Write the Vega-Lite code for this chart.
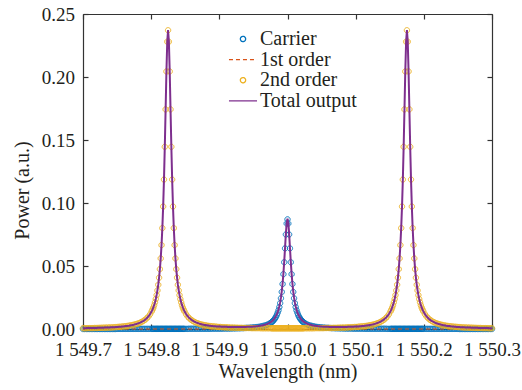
{
  "$schema": "https://vega.github.io/schema/vega-lite/v6.json",
  "width": 409,
  "height": 315,
  "autosize": {"type": "none"},
  "padding": {"left": 83, "top": 14, "right": 30, "bottom": 61},
  "background": "white",
  "datasets": {
    "first": [{"x": 1549.7, "f": 0}, {"x": 1550.3, "f": 0}],
    "main": [
      {"x":1549.7,"c":0,"s":0.0006,"t":0.0006},
      {"x":1549.7024,"c":0,"s":0.0006,"t":0.0006},
      {"x":1549.7048,"c":0,"s":0.0006,"t":0.0007},
      {"x":1549.7072,"c":0,"s":0.0007,"t":0.0007},
      {"x":1549.7096,"c":0,"s":0.0007,"t":0.0007},
      {"x":1549.712,"c":0,"s":0.0007,"t":0.0007},
      {"x":1549.7144,"c":0,"s":0.0007,"t":0.0008},
      {"x":1549.7168,"c":0,"s":0.0008,"t":0.0008},
      {"x":1549.7192,"c":0,"s":0.0008,"t":0.0008},
      {"x":1549.7216,"c":0,"s":0.0008,"t":0.0009},
      {"x":1549.724,"c":0,"s":0.0009,"t":0.0009},
      {"x":1549.7264,"c":0,"s":0.0009,"t":0.001},
      {"x":1549.7288,"c":0,"s":0.001,"t":0.001},
      {"x":1549.7312,"c":0,"s":0.001,"t":0.0011},
      {"x":1549.7336,"c":0,"s":0.0011,"t":0.0011},
      {"x":1549.736,"c":0,"s":0.0011,"t":0.0012},
      {"x":1549.7384,"c":0,"s":0.0012,"t":0.0012},
      {"x":1549.7408,"c":0,"s":0.0012,"t":0.0013},
      {"x":1549.7432,"c":0,"s":0.0013,"t":0.0014},
      {"x":1549.7456,"c":0,"s":0.0014,"t":0.0014},
      {"x":1549.748,"c":0,"s":0.0015,"t":0.0015},
      {"x":1549.7504,"c":0.0001,"s":0.0016,"t":0.0016},
      {"x":1549.7528,"c":0.0001,"s":0.0017,"t":0.0017},
      {"x":1549.7552,"c":0.0001,"s":0.0018,"t":0.0018},
      {"x":1549.7576,"c":0.0001,"s":0.0019,"t":0.002},
      {"x":1549.76,"c":0.0001,"s":0.0021,"t":0.0021},
      {"x":1549.7624,"c":0.0001,"s":0.0022,"t":0.0023},
      {"x":1549.7648,"c":0.0001,"s":0.0024,"t":0.0024},
      {"x":1549.7672,"c":0.0001,"s":0.0026,"t":0.0026},
      {"x":1549.7696,"c":0.0001,"s":0.0028,"t":0.0029},
      {"x":1549.772,"c":0.0001,"s":0.0031,"t":0.0031},
      {"x":1549.7744,"c":0.0001,"s":0.0034,"t":0.0034},
      {"x":1549.7768,"c":0.0001,"s":0.0037,"t":0.0038},
      {"x":1549.7792,"c":0.0001,"s":0.0041,"t":0.0041},
      {"x":1549.7816,"c":0.0001,"s":0.0045,"t":0.0046},
      {"x":1549.784,"c":0.0001,"s":0.0051,"t":0.0051},
      {"x":1549.7864,"c":0.0001,"s":0.0057,"t":0.0058},
      {"x":1549.7888,"c":0.0001,"s":0.0065,"t":0.0065},
      {"x":1549.7912,"c":0.0001,"s":0.0074,"t":0.0074},
      {"x":1549.7936,"c":0.0001,"s":0.0085,"t":0.0086},
      {"x":1549.796,"c":0.0001,"s":0.0099,"t":0.01},
      {"x":1549.7984,"c":0.0001,"s":0.0117,"t":0.0118},
      {"x":1549.8008,"c":0.0001,"s":0.014,"t":0.0141},
      {"x":1549.802,"c":0.0001,"s":0.0154,"t":0.0155},
      {"x":1549.8032,"c":0.0001,"s":0.017,"t":0.0171},
      {"x":1549.8044,"c":0.0001,"s":0.0189,"t":0.019},
      {"x":1549.8056,"c":0.0001,"s":0.0212,"t":0.0212},
      {"x":1549.8068,"c":0.0001,"s":0.0238,"t":0.0239},
      {"x":1549.808,"c":0.0001,"s":0.0269,"t":0.027},
      {"x":1549.8092,"c":0.0001,"s":0.0306,"t":0.0307},
      {"x":1549.8104,"c":0.0001,"s":0.0351,"t":0.0352},
      {"x":1549.8116,"c":0.0001,"s":0.0407,"t":0.0407},
      {"x":1549.8128,"c":0.0001,"s":0.0475,"t":0.0476},
      {"x":1549.814,"c":0.0001,"s":0.056,"t":0.0561},
      {"x":1549.8152,"c":0.0001,"s":0.0666,"t":0.0667},
      {"x":1549.8164,"c":0.0001,"s":0.0801,"t":0.0802},
      {"x":1549.8176,"c":0.0001,"s":0.0972,"t":0.0973},
      {"x":1549.8188,"c":0.0001,"s":0.1186,"t":0.1187},
      {"x":1549.82,"c":0.0001,"s":0.1446,"t":0.1447},
      {"x":1549.8212,"c":0.0001,"s":0.1743,"t":0.1744},
      {"x":1549.8224,"c":0.0001,"s":0.2044,"t":0.2045},
      {"x":1549.8236,"c":0.0001,"s":0.228,"t":0.2281},
      {"x":1549.8248,"c":0.0001,"s":0.2371,"t":0.2372},
      {"x":1549.826,"c":0.0001,"s":0.228,"t":0.2281},
      {"x":1549.8272,"c":0.0001,"s":0.2044,"t":0.2045},
      {"x":1549.8284,"c":0.0001,"s":0.1743,"t":0.1744},
      {"x":1549.8296,"c":0.0001,"s":0.1446,"t":0.1447},
      {"x":1549.8308,"c":0.0001,"s":0.1186,"t":0.1187},
      {"x":1549.832,"c":0.0001,"s":0.0972,"t":0.0973},
      {"x":1549.8332,"c":0.0001,"s":0.0801,"t":0.0803},
      {"x":1549.8344,"c":0.0001,"s":0.0666,"t":0.0668},
      {"x":1549.8356,"c":0.0001,"s":0.056,"t":0.0561},
      {"x":1549.8368,"c":0.0001,"s":0.0475,"t":0.0476},
      {"x":1549.838,"c":0.0001,"s":0.0407,"t":0.0408},
      {"x":1549.8392,"c":0.0001,"s":0.0351,"t":0.0352},
      {"x":1549.8404,"c":0.0001,"s":0.0306,"t":0.0307},
      {"x":1549.8416,"c":0.0001,"s":0.0269,"t":0.027},
      {"x":1549.8428,"c":0.0001,"s":0.0238,"t":0.0239},
      {"x":1549.844,"c":0.0001,"s":0.0212,"t":0.0213},
      {"x":1549.8452,"c":0.0001,"s":0.0189,"t":0.0191},
      {"x":1549.8464,"c":0.0001,"s":0.017,"t":0.0172},
      {"x":1549.8476,"c":0.0001,"s":0.0154,"t":0.0156},
      {"x":1549.8488,"c":0.0001,"s":0.014,"t":0.0141},
      {"x":1549.8512,"c":0.0001,"s":0.0117,"t":0.0119},
      {"x":1549.8536,"c":0.0001,"s":0.0099,"t":0.0101},
      {"x":1549.856,"c":0.0002,"s":0.0085,"t":0.0087},
      {"x":1549.8584,"c":0.0002,"s":0.0074,"t":0.0076},
      {"x":1549.8608,"c":0.0002,"s":0.0065,"t":0.0067},
      {"x":1549.8632,"c":0.0002,"s":0.0057,"t":0.0059},
      {"x":1549.8656,"c":0.0002,"s":0.0051,"t":0.0053},
      {"x":1549.868,"c":0.0002,"s":0.0046,"t":0.0048},
      {"x":1549.8704,"c":0.0002,"s":0.0041,"t":0.0043},
      {"x":1549.8728,"c":0.0002,"s":0.0037,"t":0.0039},
      {"x":1549.8752,"c":0.0002,"s":0.0034,"t":0.0036},
      {"x":1549.8776,"c":0.0002,"s":0.0031,"t":0.0033},
      {"x":1549.88,"c":0.0002,"s":0.0029,"t":0.0031},
      {"x":1549.8824,"c":0.0002,"s":0.0026,"t":0.0029},
      {"x":1549.8848,"c":0.0002,"s":0.0024,"t":0.0027},
      {"x":1549.8872,"c":0.0002,"s":0.0023,"t":0.0025},
      {"x":1549.8896,"c":0.0003,"s":0.0021,"t":0.0024},
      {"x":1549.892,"c":0.0003,"s":0.002,"t":0.0022},
      {"x":1549.8944,"c":0.0003,"s":0.0019,"t":0.0021},
      {"x":1549.8968,"c":0.0003,"s":0.0017,"t":0.002},
      {"x":1549.8992,"c":0.0003,"s":0.0016,"t":0.002},
      {"x":1549.9016,"c":0.0003,"s":0.0016,"t":0.0019},
      {"x":1549.904,"c":0.0003,"s":0.0015,"t":0.0018},
      {"x":1549.9064,"c":0.0004,"s":0.0014,"t":0.0017},
      {"x":1549.9088,"c":0.0004,"s":0.0013,"t":0.0017},
      {"x":1549.9112,"c":0.0004,"s":0.0013,"t":0.0017},
      {"x":1549.9136,"c":0.0004,"s":0.0012,"t":0.0016},
      {"x":1549.916,"c":0.0004,"s":0.0011,"t":0.0016},
      {"x":1549.9184,"c":0.0005,"s":0.0011,"t":0.0016},
      {"x":1549.9208,"c":0.0005,"s":0.0011,"t":0.0015},
      {"x":1549.9232,"c":0.0005,"s":0.001,"t":0.0015},
      {"x":1549.9256,"c":0.0006,"s":0.001,"t":0.0015},
      {"x":1549.928,"c":0.0006,"s":0.0009,"t":0.0015},
      {"x":1549.9304,"c":0.0006,"s":0.0009,"t":0.0015},
      {"x":1549.9328,"c":0.0007,"s":0.0009,"t":0.0016},
      {"x":1549.9352,"c":0.0007,"s":0.0008,"t":0.0016},
      {"x":1549.9376,"c":0.0008,"s":0.0008,"t":0.0016},
      {"x":1549.94,"c":0.0009,"s":0.0008,"t":0.0017},
      {"x":1549.9424,"c":0.0009,"s":0.0008,"t":0.0017},
      {"x":1549.9448,"c":0.001,"s":0.0008,"t":0.0018},
      {"x":1549.9472,"c":0.0011,"s":0.0007,"t":0.0018},
      {"x":1549.9496,"c":0.0012,"s":0.0007,"t":0.0019},
      {"x":1549.952,"c":0.0013,"s":0.0007,"t":0.002},
      {"x":1549.9544,"c":0.0015,"s":0.0007,"t":0.0022},
      {"x":1549.9568,"c":0.0016,"s":0.0007,"t":0.0023},
      {"x":1549.9592,"c":0.0018,"s":0.0007,"t":0.0025},
      {"x":1549.9616,"c":0.0021,"s":0.0006,"t":0.0027},
      {"x":1549.964,"c":0.0024,"s":0.0006,"t":0.003},
      {"x":1549.9664,"c":0.0027,"s":0.0006,"t":0.0033},
      {"x":1549.9688,"c":0.0031,"s":0.0006,"t":0.0037},
      {"x":1549.9712,"c":0.0036,"s":0.0006,"t":0.0042},
      {"x":1549.9736,"c":0.0043,"s":0.0006,"t":0.0049},
      {"x":1549.976,"c":0.0051,"s":0.0006,"t":0.0057},
      {"x":1549.9772,"c":0.0056,"s":0.0006,"t":0.0062},
      {"x":1549.9784,"c":0.0062,"s":0.0006,"t":0.0068},
      {"x":1549.9796,"c":0.0069,"s":0.0006,"t":0.0075},
      {"x":1549.9808,"c":0.0077,"s":0.0006,"t":0.0083},
      {"x":1549.982,"c":0.0087,"s":0.0006,"t":0.0093},
      {"x":1549.9832,"c":0.0098,"s":0.0006,"t":0.0104},
      {"x":1549.9844,"c":0.0112,"s":0.0006,"t":0.0118},
      {"x":1549.9856,"c":0.0129,"s":0.0006,"t":0.0134},
      {"x":1549.9868,"c":0.0149,"s":0.0006,"t":0.0155},
      {"x":1549.988,"c":0.0174,"s":0.0006,"t":0.018},
      {"x":1549.9892,"c":0.0205,"s":0.0006,"t":0.0211},
      {"x":1549.9904,"c":0.0244,"s":0.0006,"t":0.025},
      {"x":1549.9916,"c":0.0294,"s":0.0006,"t":0.0299},
      {"x":1549.9928,"c":0.0357,"s":0.0006,"t":0.0362},
      {"x":1549.994,"c":0.0435,"s":0.0006,"t":0.0441},
      {"x":1549.9952,"c":0.053,"s":0.0006,"t":0.0536},
      {"x":1549.9964,"c":0.064,"s":0.0006,"t":0.0645},
      {"x":1549.9976,"c":0.075,"s":0.0006,"t":0.0756},
      {"x":1549.9988,"c":0.0837,"s":0.0006,"t":0.0842},
      {"x":1550.0,"c":0.087,"s":0.0006,"t":0.0876},
      {"x":1550.0012,"c":0.0837,"s":0.0006,"t":0.0842},
      {"x":1550.0024,"c":0.075,"s":0.0006,"t":0.0756},
      {"x":1550.0036,"c":0.064,"s":0.0006,"t":0.0645},
      {"x":1550.0048,"c":0.053,"s":0.0006,"t":0.0536},
      {"x":1550.006,"c":0.0435,"s":0.0006,"t":0.0441},
      {"x":1550.0072,"c":0.0357,"s":0.0006,"t":0.0362},
      {"x":1550.0084,"c":0.0294,"s":0.0006,"t":0.0299},
      {"x":1550.0096,"c":0.0244,"s":0.0006,"t":0.025},
      {"x":1550.0108,"c":0.0205,"s":0.0006,"t":0.0211},
      {"x":1550.012,"c":0.0174,"s":0.0006,"t":0.018},
      {"x":1550.0132,"c":0.0149,"s":0.0006,"t":0.0155},
      {"x":1550.0144,"c":0.0129,"s":0.0006,"t":0.0134},
      {"x":1550.0156,"c":0.0112,"s":0.0006,"t":0.0118},
      {"x":1550.0168,"c":0.0098,"s":0.0006,"t":0.0104},
      {"x":1550.018,"c":0.0087,"s":0.0006,"t":0.0093},
      {"x":1550.0192,"c":0.0077,"s":0.0006,"t":0.0083},
      {"x":1550.0204,"c":0.0069,"s":0.0006,"t":0.0075},
      {"x":1550.0216,"c":0.0062,"s":0.0006,"t":0.0068},
      {"x":1550.0228,"c":0.0056,"s":0.0006,"t":0.0062},
      {"x":1550.024,"c":0.0051,"s":0.0006,"t":0.0057},
      {"x":1550.0264,"c":0.0043,"s":0.0006,"t":0.0049},
      {"x":1550.0288,"c":0.0036,"s":0.0006,"t":0.0042},
      {"x":1550.0312,"c":0.0031,"s":0.0006,"t":0.0037},
      {"x":1550.0336,"c":0.0027,"s":0.0006,"t":0.0033},
      {"x":1550.036,"c":0.0024,"s":0.0006,"t":0.003},
      {"x":1550.0384,"c":0.0021,"s":0.0006,"t":0.0027},
      {"x":1550.0408,"c":0.0018,"s":0.0007,"t":0.0025},
      {"x":1550.0432,"c":0.0016,"s":0.0007,"t":0.0023},
      {"x":1550.0456,"c":0.0015,"s":0.0007,"t":0.0022},
      {"x":1550.048,"c":0.0013,"s":0.0007,"t":0.002},
      {"x":1550.0504,"c":0.0012,"s":0.0007,"t":0.0019},
      {"x":1550.0528,"c":0.0011,"s":0.0007,"t":0.0018},
      {"x":1550.0552,"c":0.001,"s":0.0008,"t":0.0018},
      {"x":1550.0576,"c":0.0009,"s":0.0008,"t":0.0017},
      {"x":1550.06,"c":0.0009,"s":0.0008,"t":0.0017},
      {"x":1550.0624,"c":0.0008,"s":0.0008,"t":0.0016},
      {"x":1550.0648,"c":0.0007,"s":0.0008,"t":0.0016},
      {"x":1550.0672,"c":0.0007,"s":0.0009,"t":0.0016},
      {"x":1550.0696,"c":0.0006,"s":0.0009,"t":0.0015},
      {"x":1550.072,"c":0.0006,"s":0.0009,"t":0.0015},
      {"x":1550.0744,"c":0.0006,"s":0.001,"t":0.0015},
      {"x":1550.0768,"c":0.0005,"s":0.001,"t":0.0015},
      {"x":1550.0792,"c":0.0005,"s":0.0011,"t":0.0015},
      {"x":1550.0816,"c":0.0005,"s":0.0011,"t":0.0016},
      {"x":1550.084,"c":0.0004,"s":0.0011,"t":0.0016},
      {"x":1550.0864,"c":0.0004,"s":0.0012,"t":0.0016},
      {"x":1550.0888,"c":0.0004,"s":0.0013,"t":0.0017},
      {"x":1550.0912,"c":0.0004,"s":0.0013,"t":0.0017},
      {"x":1550.0936,"c":0.0004,"s":0.0014,"t":0.0017},
      {"x":1550.096,"c":0.0003,"s":0.0015,"t":0.0018},
      {"x":1550.0984,"c":0.0003,"s":0.0016,"t":0.0019},
      {"x":1550.1008,"c":0.0003,"s":0.0016,"t":0.002},
      {"x":1550.1032,"c":0.0003,"s":0.0017,"t":0.002},
      {"x":1550.1056,"c":0.0003,"s":0.0019,"t":0.0021},
      {"x":1550.108,"c":0.0003,"s":0.002,"t":0.0022},
      {"x":1550.1104,"c":0.0003,"s":0.0021,"t":0.0024},
      {"x":1550.1128,"c":0.0002,"s":0.0023,"t":0.0025},
      {"x":1550.1152,"c":0.0002,"s":0.0024,"t":0.0027},
      {"x":1550.1176,"c":0.0002,"s":0.0026,"t":0.0029},
      {"x":1550.12,"c":0.0002,"s":0.0029,"t":0.0031},
      {"x":1550.1224,"c":0.0002,"s":0.0031,"t":0.0033},
      {"x":1550.1248,"c":0.0002,"s":0.0034,"t":0.0036},
      {"x":1550.1272,"c":0.0002,"s":0.0037,"t":0.0039},
      {"x":1550.1296,"c":0.0002,"s":0.0041,"t":0.0043},
      {"x":1550.132,"c":0.0002,"s":0.0046,"t":0.0048},
      {"x":1550.1344,"c":0.0002,"s":0.0051,"t":0.0053},
      {"x":1550.1368,"c":0.0002,"s":0.0057,"t":0.0059},
      {"x":1550.1392,"c":0.0002,"s":0.0065,"t":0.0067},
      {"x":1550.1416,"c":0.0002,"s":0.0074,"t":0.0076},
      {"x":1550.144,"c":0.0002,"s":0.0085,"t":0.0087},
      {"x":1550.1464,"c":0.0001,"s":0.0099,"t":0.0101},
      {"x":1550.1488,"c":0.0001,"s":0.0117,"t":0.0119},
      {"x":1550.1512,"c":0.0001,"s":0.014,"t":0.0141},
      {"x":1550.1524,"c":0.0001,"s":0.0154,"t":0.0156},
      {"x":1550.1536,"c":0.0001,"s":0.017,"t":0.0172},
      {"x":1550.1548,"c":0.0001,"s":0.0189,"t":0.0191},
      {"x":1550.156,"c":0.0001,"s":0.0212,"t":0.0213},
      {"x":1550.1572,"c":0.0001,"s":0.0238,"t":0.0239},
      {"x":1550.1584,"c":0.0001,"s":0.0269,"t":0.027},
      {"x":1550.1596,"c":0.0001,"s":0.0306,"t":0.0307},
      {"x":1550.1608,"c":0.0001,"s":0.0351,"t":0.0352},
      {"x":1550.162,"c":0.0001,"s":0.0407,"t":0.0408},
      {"x":1550.1632,"c":0.0001,"s":0.0475,"t":0.0476},
      {"x":1550.1644,"c":0.0001,"s":0.056,"t":0.0561},
      {"x":1550.1656,"c":0.0001,"s":0.0666,"t":0.0668},
      {"x":1550.1668,"c":0.0001,"s":0.0801,"t":0.0803},
      {"x":1550.168,"c":0.0001,"s":0.0972,"t":0.0973},
      {"x":1550.1692,"c":0.0001,"s":0.1186,"t":0.1187},
      {"x":1550.1704,"c":0.0001,"s":0.1446,"t":0.1447},
      {"x":1550.1716,"c":0.0001,"s":0.1743,"t":0.1744},
      {"x":1550.1728,"c":0.0001,"s":0.2044,"t":0.2045},
      {"x":1550.174,"c":0.0001,"s":0.228,"t":0.2281},
      {"x":1550.1752,"c":0.0001,"s":0.2371,"t":0.2372},
      {"x":1550.1764,"c":0.0001,"s":0.228,"t":0.2281},
      {"x":1550.1776,"c":0.0001,"s":0.2044,"t":0.2045},
      {"x":1550.1788,"c":0.0001,"s":0.1743,"t":0.1744},
      {"x":1550.18,"c":0.0001,"s":0.1446,"t":0.1447},
      {"x":1550.1812,"c":0.0001,"s":0.1186,"t":0.1187},
      {"x":1550.1824,"c":0.0001,"s":0.0972,"t":0.0973},
      {"x":1550.1836,"c":0.0001,"s":0.0801,"t":0.0802},
      {"x":1550.1848,"c":0.0001,"s":0.0666,"t":0.0667},
      {"x":1550.186,"c":0.0001,"s":0.056,"t":0.0561},
      {"x":1550.1872,"c":0.0001,"s":0.0475,"t":0.0476},
      {"x":1550.1884,"c":0.0001,"s":0.0407,"t":0.0407},
      {"x":1550.1896,"c":0.0001,"s":0.0351,"t":0.0352},
      {"x":1550.1908,"c":0.0001,"s":0.0306,"t":0.0307},
      {"x":1550.192,"c":0.0001,"s":0.0269,"t":0.027},
      {"x":1550.1932,"c":0.0001,"s":0.0238,"t":0.0239},
      {"x":1550.1944,"c":0.0001,"s":0.0212,"t":0.0212},
      {"x":1550.1956,"c":0.0001,"s":0.0189,"t":0.019},
      {"x":1550.1968,"c":0.0001,"s":0.017,"t":0.0171},
      {"x":1550.198,"c":0.0001,"s":0.0154,"t":0.0155},
      {"x":1550.1992,"c":0.0001,"s":0.014,"t":0.0141},
      {"x":1550.2016,"c":0.0001,"s":0.0117,"t":0.0118},
      {"x":1550.204,"c":0.0001,"s":0.0099,"t":0.01},
      {"x":1550.2064,"c":0.0001,"s":0.0085,"t":0.0086},
      {"x":1550.2088,"c":0.0001,"s":0.0074,"t":0.0074},
      {"x":1550.2112,"c":0.0001,"s":0.0065,"t":0.0065},
      {"x":1550.2136,"c":0.0001,"s":0.0057,"t":0.0058},
      {"x":1550.216,"c":0.0001,"s":0.0051,"t":0.0051},
      {"x":1550.2184,"c":0.0001,"s":0.0045,"t":0.0046},
      {"x":1550.2208,"c":0.0001,"s":0.0041,"t":0.0041},
      {"x":1550.2232,"c":0.0001,"s":0.0037,"t":0.0038},
      {"x":1550.2256,"c":0.0001,"s":0.0034,"t":0.0034},
      {"x":1550.228,"c":0.0001,"s":0.0031,"t":0.0031},
      {"x":1550.2304,"c":0.0001,"s":0.0028,"t":0.0029},
      {"x":1550.2328,"c":0.0001,"s":0.0026,"t":0.0026},
      {"x":1550.2352,"c":0.0001,"s":0.0024,"t":0.0024},
      {"x":1550.2376,"c":0.0001,"s":0.0022,"t":0.0023},
      {"x":1550.24,"c":0.0001,"s":0.0021,"t":0.0021},
      {"x":1550.2424,"c":0.0001,"s":0.0019,"t":0.002},
      {"x":1550.2448,"c":0.0001,"s":0.0018,"t":0.0018},
      {"x":1550.2472,"c":0.0001,"s":0.0017,"t":0.0017},
      {"x":1550.2496,"c":0.0001,"s":0.0016,"t":0.0016},
      {"x":1550.252,"c":0,"s":0.0015,"t":0.0015},
      {"x":1550.2544,"c":0,"s":0.0014,"t":0.0014},
      {"x":1550.2568,"c":0,"s":0.0013,"t":0.0014},
      {"x":1550.2592,"c":0,"s":0.0012,"t":0.0013},
      {"x":1550.2616,"c":0,"s":0.0012,"t":0.0012},
      {"x":1550.264,"c":0,"s":0.0011,"t":0.0012},
      {"x":1550.2664,"c":0,"s":0.0011,"t":0.0011},
      {"x":1550.2688,"c":0,"s":0.001,"t":0.0011},
      {"x":1550.2712,"c":0,"s":0.001,"t":0.001},
      {"x":1550.2736,"c":0,"s":0.0009,"t":0.001},
      {"x":1550.276,"c":0,"s":0.0009,"t":0.0009},
      {"x":1550.2784,"c":0,"s":0.0008,"t":0.0009},
      {"x":1550.2808,"c":0,"s":0.0008,"t":0.0008},
      {"x":1550.2832,"c":0,"s":0.0008,"t":0.0008},
      {"x":1550.2856,"c":0,"s":0.0007,"t":0.0008},
      {"x":1550.288,"c":0,"s":0.0007,"t":0.0007},
      {"x":1550.2904,"c":0,"s":0.0007,"t":0.0007},
      {"x":1550.2928,"c":0,"s":0.0007,"t":0.0007},
      {"x":1550.2952,"c":0,"s":0.0006,"t":0.0007},
      {"x":1550.2976,"c":0,"s":0.0006,"t":0.0006},
      {"x":1550.3,"c":0,"s":0.0006,"t":0.0006}
    ]
  },
  "config": {
    "view": {"stroke": null},
    "font": "Liberation Serif",
    "axis": {
      "grid": false,
      "domainColor": "#333333",
      "domainWidth": 1.2,
      "tickColor": "#333333",
      "tickWidth": 1.2,
      "tickSize": -5,
      "labelFont": "Liberation Serif",
      "labelFontSize": 19,
      "labelColor": "#231f20",
      "titleFont": "Liberation Serif",
      "titleFontSize": 20,
      "titleFontWeight": "normal",
      "titleColor": "#231f20",
      "labelFlush": false,
      "labelOverlap": false
    },
    "legend": {
      "orient": "none",
      "legendX": 150,
      "legendY": 15,
      "padding": 0,
      "columns": 1,
      "labelFont": "Liberation Serif",
      "labelFontSize": 20,
      "labelColor": "#231f20",
      "labelOffset": 7,
      "rowPadding": 0.6,
      "symbolSize": 28,
      "symbolStrokeWidth": 1.3
    }
  },
  "layer": [
    {
      "layer": [
        {
          "data": {"name": "main"},
          "mark": {"type": "point", "filled": false, "opacity": 1, "size": 28, "strokeWidth": 1},
          "encoding": {
            "x": {"field": "x", "type": "quantitative", "title": "Wavelength (nm)",
              "scale": {"domain": [1549.7, 1550.3], "nice": false, "zero": false},
              "axis": {"orient": "bottom", "values": [1549.7, 1549.8, 1549.9, 1550.0, 1550.1, 1550.2, 1550.3],
                "labelExpr": "'1 ' + format(datum.value - 1000, '.1f')",
                "labelBaseline": "alphabetic", "labelPadding": 31,
                "titleBaseline": "alphabetic", "titleY": 48}},
            "y": {"field": "c", "type": "quantitative", "title": "Power (a.u.)",
              "scale": {"domain": [0, 0.25], "nice": false},
              "axis": {"orient": "left", "values": [0, 0.05, 0.1, 0.15, 0.2, 0.25], "format": ".2f",
                "labelPadding": 13.5, "titleAngle": -90, "titleBaseline": "alphabetic", "titleX": -54.5, "titleY": 176}},
            "color": {"datum": "Carrier", "type": "nominal", "title": null,
              "scale": {"domain": ["Carrier", "1st order", "2nd order", "Total output"],
                        "range": ["#0072BD", "#D95319", "#EDB120", "#7E2F8E"]}},
            "shape": {"datum": "Carrier", "type": "nominal", "title": null,
              "scale": {"domain": ["Carrier", "1st order", "2nd order", "Total output"],
                        "range": ["circle", "M-5.3,0H5.3", "circle", "M-5.3,0H5.3"]}},
            "strokeDash": {"datum": "Carrier", "type": "nominal", "title": null,
              "scale": {"domain": ["Carrier", "1st order", "2nd order", "Total output"],
                        "range": [[1, 0], [4, 3], [1, 0], [1, 0]]}}
          }
        },
        {
          "data": {"name": "first"},
          "mark": {"type": "line", "strokeWidth": 1},
          "encoding": {
            "x": {"field": "x", "type": "quantitative", "title": "Wavelength (nm)"},
            "y": {"field": "f", "type": "quantitative", "title": "Power (a.u.)"},
            "color": {"datum": "1st order", "type": "nominal", "title": null},
            "strokeDash": {"datum": "1st order", "type": "nominal", "title": null}
          }
        },
        {
          "data": {"name": "main"},
          "mark": {"type": "point", "filled": false, "opacity": 1, "size": 28, "strokeWidth": 1},
          "encoding": {
            "x": {"field": "x", "type": "quantitative", "title": "Wavelength (nm)"},
            "y": {"field": "s", "type": "quantitative", "title": "Power (a.u.)"},
            "color": {"datum": "2nd order", "type": "nominal", "title": null},
            "shape": {"datum": "2nd order", "type": "nominal", "title": null},
            "strokeDash": {"datum": "2nd order", "type": "nominal", "title": null}
          }
        },
        {
          "data": {"name": "main"},
          "mark": {"type": "line", "strokeWidth": 2},
          "encoding": {
            "x": {"field": "x", "type": "quantitative", "title": "Wavelength (nm)"},
            "y": {"field": "t", "type": "quantitative", "title": "Power (a.u.)"},
            "color": {"datum": "Total output", "type": "nominal", "title": null},
            "strokeDash": {"datum": "Total output", "type": "nominal", "title": null}
          }
        }
      ]
    },
    {
      "data": {"name": "first"},
      "mark": {"type": "point", "opacity": 0},
      "encoding": {
        "x": {"field": "x", "type": "quantitative",
          "axis": {"orient": "top", "labels": false, "title": null,
                   "values": [1549.7, 1549.8, 1549.9, 1550.0, 1550.1, 1550.2, 1550.3]}},
        "y": {"field": "f", "type": "quantitative",
          "axis": {"orient": "right", "labels": false, "title": null,
                   "values": [0, 0.05, 0.1, 0.15, 0.2, 0.25]}}
      }
    }
  ],
  "resolve": {"axis": {"x": "independent", "y": "independent"}}
}
